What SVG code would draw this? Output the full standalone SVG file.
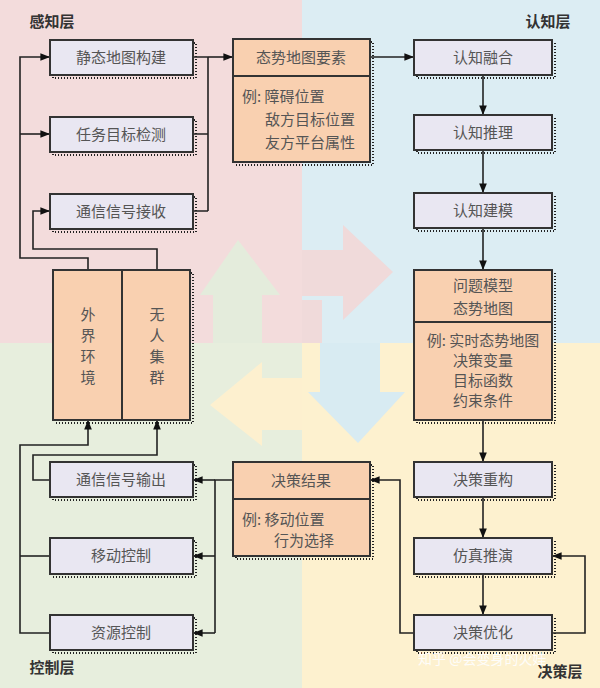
<svg xmlns="http://www.w3.org/2000/svg" width="600" height="688" viewBox="0 0 600 688">
<defs>
<marker id="ah" viewBox="0 0 10 10" refX="10" refY="5" markerWidth="6" markerHeight="6" orient="auto"><path d="M0,1 L10,5 L0,9 z" fill="#111"/></marker>
<style>
text{font-family:"Noto Sans CJK SC","Noto Sans",sans-serif;font-size:15px;fill:#555;text-anchor:middle}
.lab{font-weight:bold;fill:#333;font-size:15px}
.b{fill:#e9e7f2;stroke:#333;stroke-width:2}
.o{fill:#f9d0b0;stroke:#333;stroke-width:2}
.sh{fill:none;stroke:#222;stroke-width:2;stroke-dasharray:1 2}
.c{fill:none;stroke:#222;stroke-width:1.6}
.a{marker-end:url(#ah)}
</style>
</defs>
<rect x="0" y="0" width="302" height="343" fill="#f3dcdc"/>
<rect x="302" y="0" width="298" height="343" fill="#dcedf3"/>
<rect x="0" y="343" width="302" height="345" fill="#e7eedd"/>
<rect x="302" y="343" width="298" height="345" fill="#fdf1cf"/>
<path d="M302,250 H343 V225 L393,272 L343,320 V296 H302 Z" fill="#f0dada"/>
<path d="M322,343 H302 V300 L322,300 Z" fill="#f0dada"/>
<path d="M320,343 H380 V392 H405 L358,443 L308,392 H320 Z" fill="#d8ebf2"/>
<path d="M213,343 V295 H200 L238,240 L280,295 H262 V343 Z" fill="#e4ecdc"/>
<path d="M302,378 H262 V362 L210,405 L262,446 V430 H302 Z" fill="#fdf0cf"/>
<text class="lab" x="52" y="27">感知层</text>
<text class="lab" x="548" y="27">认知层</text>
<text class="lab" x="52" y="673">控制层</text>
<text class="lab" x="560" y="677">决策层</text>
<g id="connectors">
<path class="c" d="M193,57 H208 M193,134 H208 M193,211 H208 M208,211 V57"/>
<path class="c a" d="M208,57 H233"/>
<path class="c a" d="M370,57 H414"/>
<path class="c a" d="M483,75 V115"/>
<path class="c a" d="M483,150 V193"/>
<path class="c a" d="M483,228 V270"/>
<path class="c a" d="M483,420 V462"/>
<path class="c a" d="M483,497 V538"/>
<path class="c a" d="M483,574 V615"/>
<path class="c a" d="M552,633 H585 V556 H552"/>
<path class="c a" d="M414,633 H400 V480 H370"/>
<path class="c" d="M233,480 H215 V633"/>
<path class="c a" d="M215,480 H193"/>
<path class="c a" d="M215,556 H193"/>
<path class="c a" d="M215,633 H193"/>
<path class="c a" d="M50,633 H20 V445 H88 V420"/>
<path class="c" d="M50,556 H20"/>
<path class="c a" d="M50,480 H33 V455 H157 V420"/>
<path class="c a" d="M88,270 V258 H20 V57 H50"/>
<path class="c a" d="M20,134 H50"/>
<path class="c a" d="M157,270 V249 H33 V211 H50"/>
</g>
<g id="n1"><rect class="sh" x="53" y="43" width="143" height="35"/><rect class="b" x="50" y="40" width="143" height="35"/><text x="121" y="63">静态地图构建</text></g>
<g id="n2"><rect class="sh" x="53" y="120" width="143" height="35"/><rect class="b" x="50" y="117" width="143" height="35"/><text x="121" y="140">任务目标检测</text></g>
<g id="n3"><rect class="sh" x="53" y="197" width="143" height="35"/><rect class="b" x="50" y="194" width="143" height="35"/><text x="121" y="217">通信信号接收</text></g>
<g id="n4"><rect class="sh" x="236" y="42" width="137" height="123"/><rect class="o" x="233" y="39" width="137" height="123"/><line x1="233" y1="76" x2="370" y2="76" stroke="#333" stroke-width="2"/><text x="301" y="63">态势地图要素</text><text x="242" y="102" style="text-anchor:start">例: 障碍位置</text><text x="265" y="125" style="text-anchor:start">敌方目标位置</text><text x="265" y="148" style="text-anchor:start">友方平台属性</text></g>
<g id="n5"><rect class="sh" x="417" y="43" width="138" height="35"/><rect class="b" x="414" y="40" width="138" height="35"/><text x="483" y="63">认知融合</text></g>
<g id="n6"><rect class="sh" x="417" y="118" width="138" height="35"/><rect class="b" x="414" y="115" width="138" height="35"/><text x="483" y="138">认知推理</text></g>
<g id="n7"><rect class="sh" x="417" y="196" width="138" height="35"/><rect class="b" x="414" y="193" width="138" height="35"/><text x="483" y="216">认知建模</text></g>
<g id="n8"><rect class="sh" x="417" y="273" width="138" height="150"/><rect class="o" x="414" y="270" width="138" height="150"/><line x1="414" y1="322" x2="552" y2="322" stroke="#333" stroke-width="2"/><text x="483" y="291">问题模型</text><text x="483" y="314">态势地图</text><text x="483" y="346">例: 实时态势地图</text><text x="483" y="366">决策变量</text><text x="483" y="386">目标函数</text><text x="483" y="406">约束条件</text></g>
<g id="n9"><rect class="sh" x="56" y="273" width="137" height="150"/><rect class="o" x="53" y="270" width="137" height="150"/><line x1="122" y1="270" x2="122" y2="420" stroke="#333" stroke-width="2"/><text x="88" y="320">外</text><text x="88" y="341">界</text><text x="88" y="362">环</text><text x="88" y="383">境</text><text x="157" y="320">无</text><text x="157" y="341">人</text><text x="157" y="362">集</text><text x="157" y="383">群</text></g>
<g id="n10"><rect class="sh" x="53" y="465" width="143" height="35"/><rect class="b" x="50" y="462" width="143" height="35"/><text x="121" y="485">通信信号输出</text></g>
<g id="n11"><rect class="sh" x="53" y="541" width="143" height="36"/><rect class="b" x="50" y="538" width="143" height="36"/><text x="121" y="561">移动控制</text></g>
<g id="n12"><rect class="sh" x="53" y="618" width="143" height="35"/><rect class="b" x="50" y="615" width="143" height="35"/><text x="121" y="638">资源控制</text></g>
<g id="n13"><rect class="sh" x="236" y="465" width="137" height="94"/><rect class="o" x="233" y="462" width="137" height="94"/><line x1="233" y1="499" x2="370" y2="499" stroke="#333" stroke-width="2"/><text x="301" y="486">决策结果</text><text x="242" y="525" style="text-anchor:start">例: 移动位置</text><text x="274" y="546" style="text-anchor:start">行为选择</text></g>
<g id="n14"><rect class="sh" x="417" y="465" width="138" height="35"/><rect class="b" x="414" y="462" width="138" height="35"/><text x="483" y="485">决策重构</text></g>
<g id="n15"><rect class="sh" x="417" y="541" width="138" height="36"/><rect class="b" x="414" y="538" width="138" height="36"/><text x="483" y="561">仿真推演</text></g>
<g id="n16"><rect class="sh" x="417" y="618" width="138" height="35"/><rect class="b" x="414" y="615" width="138" height="35"/><text x="483" y="638">决策优化</text></g>
<text x="418" y="664" style="fill:#fff;font-size:14px;opacity:0.9;text-anchor:start">知乎 @会变身的火娃</text>
</svg>
